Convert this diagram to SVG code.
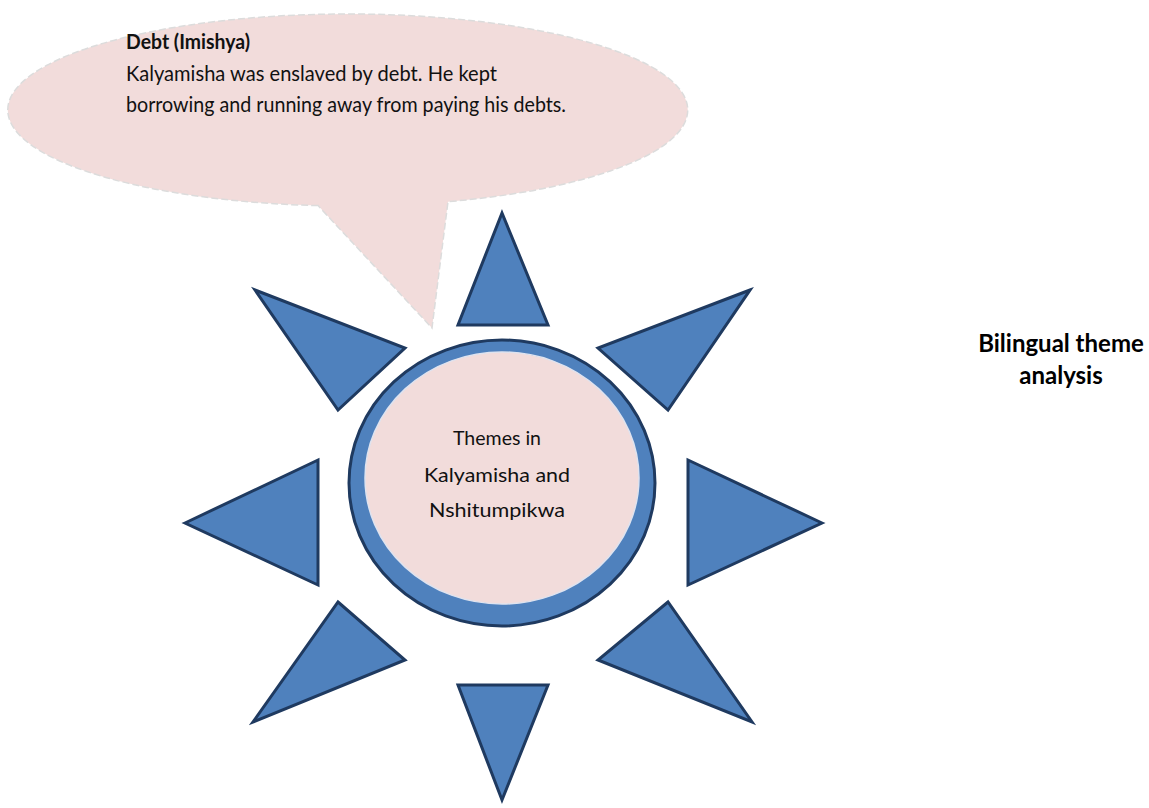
<svg xmlns="http://www.w3.org/2000/svg" width="1149" height="808" viewBox="0 0 1149 808">
<style>
.tri{fill:#4f81bd;stroke:#1f3a60;stroke-width:3;stroke-linejoin:miter}
.t{font-family:Lato,"Open Sans","Liberation Sans",sans-serif;font-size:21px;fill:#111}
.b{font-weight:bold}
.c{font-family:Lato,"Open Sans","Liberation Sans",sans-serif;font-size:20px;fill:#111;text-anchor:middle}
.r{font-family:Lato,"Open Sans","Liberation Sans",sans-serif;font-size:24px;font-weight:bold;fill:#000;text-anchor:middle}
</style>
<rect width="1149" height="808" fill="#fff"/>
<g id="bubble">
<path d="M318,205.6 A340,96 0 1 1 448,201.7 L432,328 Z" fill="#f2dcdb" stroke="#dcdcdc" stroke-width="1.5" stroke-dasharray="7 3"/>
<text class="t b" x="126" y="49" textLength="124" lengthAdjust="spacingAndGlyphs">Debt (Imishya)</text>
<text class="t" x="126" y="81" textLength="371" lengthAdjust="spacingAndGlyphs">Kalyamisha was enslaved by debt. He kept</text>
<text class="t" x="126" y="112" textLength="440" lengthAdjust="spacingAndGlyphs">borrowing and running away from paying his debts.</text>
</g>
<g id="rays">
<polygon id="ray-top" class="tri" points="502,213 548,325 458,325"/>
<polygon id="ray-upper-left" class="tri" points="255,290 405,348 338,410"/>
<polygon id="ray-upper-right" class="tri" points="750,290 598,348 668,410"/>
<polygon id="ray-left" class="tri" points="185,523 318,460 318,585"/>
<polygon id="ray-right" class="tri" points="822,523 688,460 688,585"/>
<polygon id="ray-lower-left" class="tri" points="338,602 405,660 253,722"/>
<polygon id="ray-lower-right" class="tri" points="668,602 598,660 752,722"/>
<polygon id="ray-bottom" class="tri" points="458,685 548,685 502,800"/>
</g>
<g id="center">
<ellipse cx="502" cy="483" rx="153" ry="143" fill="#4f81bd" stroke="#1f3a60" stroke-width="3"/>
<ellipse cx="502" cy="478" rx="137" ry="126" fill="#f2dcdb" stroke="#dfe3ef" stroke-width="1.5"/>
<text class="c" x="497" y="445" textLength="88" lengthAdjust="spacingAndGlyphs">Themes in</text>
<text class="c" x="497" y="482" textLength="146" lengthAdjust="spacingAndGlyphs">Kalyamisha and</text>
<text class="c" x="497" y="517" textLength="136" lengthAdjust="spacingAndGlyphs">Nshitumpikwa</text>
</g>
<g id="caption">
<text class="r" x="1061" y="352">Bilingual theme</text>
<text class="r" x="1061" y="384">analysis</text>
</g>
</svg>
